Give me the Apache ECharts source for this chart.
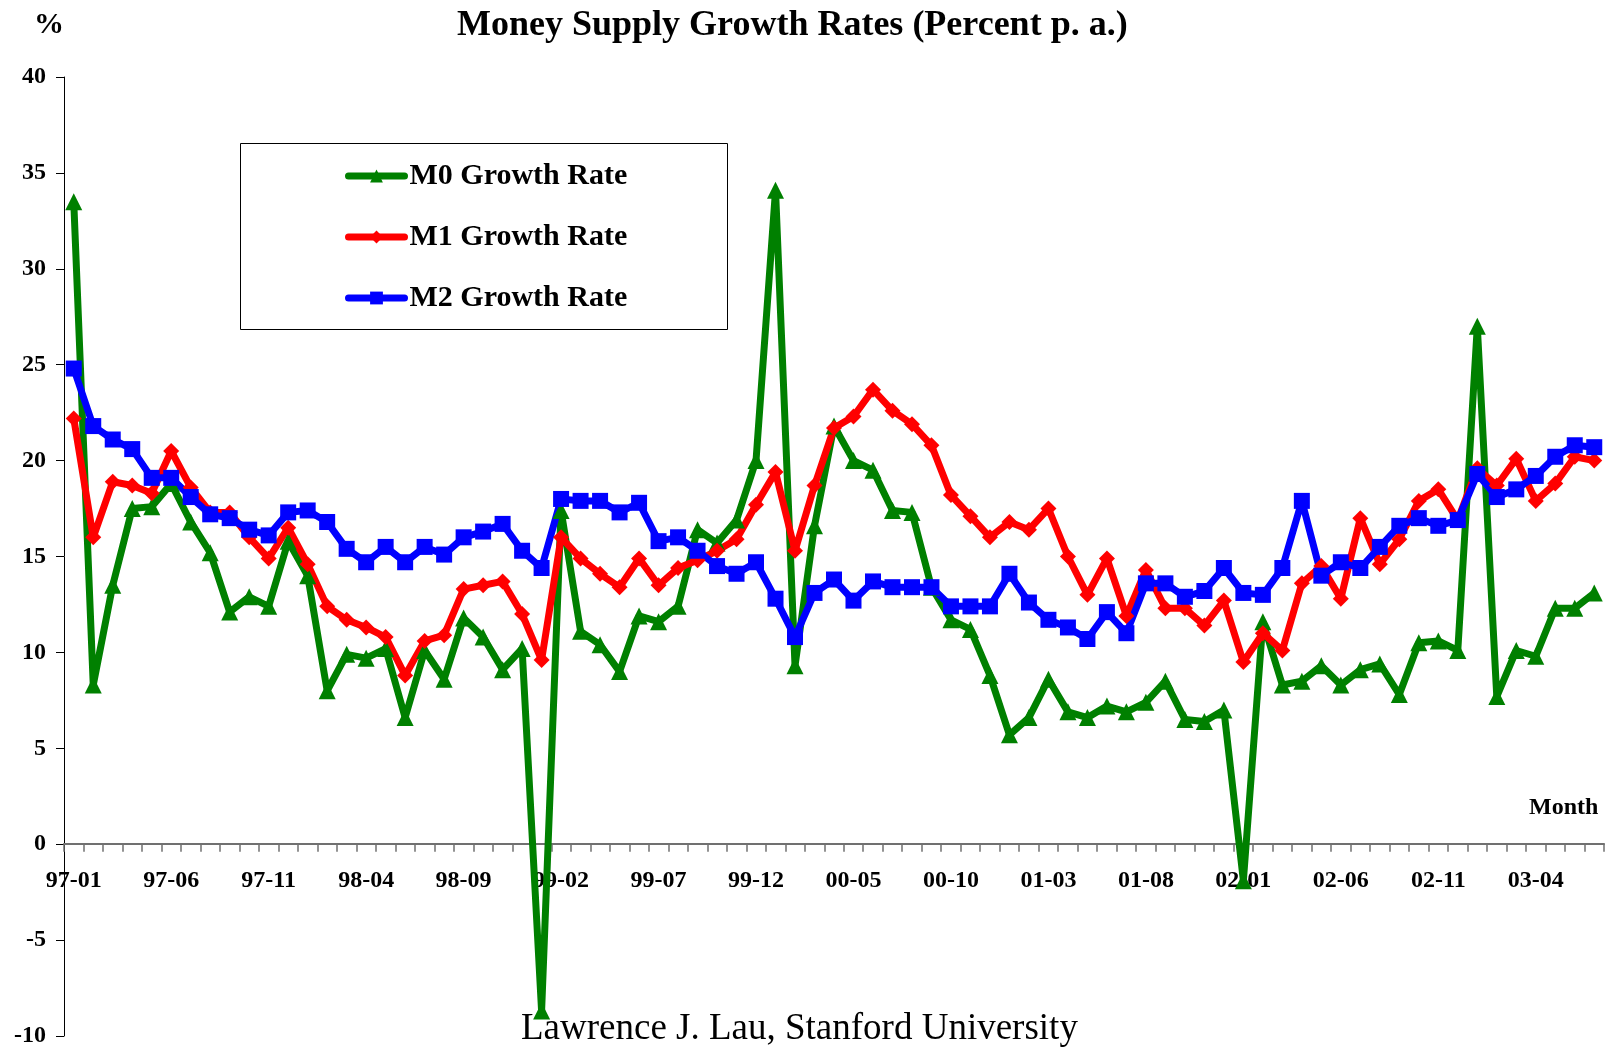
<!DOCTYPE html>
<html>
<head>
<meta charset="utf-8">
<title>Money Supply Growth Rates</title>
<script src="https://cdn.jsdelivr.net/npm/echarts@6/dist/echarts.min.js"></script>
<style>
  html, body { margin: 0; padding: 0; background: #fff; }
  #chart { width: 1614px; height: 1048px; }
</style>
</head>
<body>
<div id="chart"></div>
<script>
// months, 97-01 .. 03-07
const months = [
  '97-01', '97-02', '97-03', '97-04', '97-05', '97-06', '97-07', '97-08', '97-09', '97-10', '97-11', '97-12',
  '98-01', '98-02', '98-03', '98-04', '98-05', '98-06', '98-07', '98-08', '98-09', '98-10', '98-11', '98-12',
  '99-01', '99-02', '99-03', '99-04', '99-05', '99-06', '99-07', '99-08', '99-09', '99-10', '99-11', '99-12',
  '00-01', '00-02', '00-03', '00-04', '00-05', '00-06', '00-07', '00-08', '00-09', '00-10', '00-11', '00-12',
  '01-01', '01-02', '01-03', '01-04', '01-05', '01-06', '01-07', '01-08', '01-09', '01-10', '01-11', '01-12',
  '02-01', '02-02', '02-03', '02-04', '02-05', '02-06', '02-07', '02-08', '02-09', '02-10', '02-11', '02-12',
  '03-01', '03-02', '03-03', '03-04', '03-05', '03-06', '03-07'
]

const m0Growth = [
  33.5, 8.3, 13.5, 17.5, 17.6, 18.8, 16.8, 15.2, 12.1, 12.9, 12.4, 15.8,
  14.0, 8.0, 9.9, 9.7, 10.2, 6.6, 10.1, 8.6, 11.8, 10.8, 9.1, 10.2,
  -8.7, 17.4, 11.1, 10.4, 9.0, 11.9, 11.6, 12.4, 16.4, 15.7, 16.9, 20.0,
  34.1, 9.3, 16.6, 21.8, 20.0, 19.5, 17.4, 17.3, 13.4, 11.7, 11.2, 8.8,
  5.7, 6.6, 8.6, 6.9, 6.6, 7.2, 6.9, 7.4, 8.5, 6.5, 6.4, 7.0,
  -1.9, 11.6, 8.3, 8.5, 9.3, 8.3, 9.1, 9.4, 7.8, 10.5, 10.6, 10.1,
  27.0, 7.7, 10.1, 9.8, 12.3, 12.3, 13.1
]

const m1Growth = [
  22.2, 16.0, 18.9, 18.7, 18.3, 20.5, 18.6, 17.3, 17.3, 16.0, 14.9, 16.5,
  14.6, 12.4, 11.7, 11.3, 10.8, 8.8, 10.6, 10.9, 13.3, 13.5, 13.7, 12.0,
  9.6, 16.0, 14.9, 14.1, 13.4, 14.9, 13.5, 14.4, 14.8, 15.3, 15.9, 17.7,
  19.4, 15.3, 18.7, 21.7, 22.3, 23.7, 22.6, 21.9, 20.8, 18.2, 17.1, 16.0,
  16.8, 16.4, 17.5, 15.0, 13.0, 14.9, 11.9, 14.3, 12.3, 12.3, 11.4, 12.7,
  9.5, 11.0, 10.1, 13.6, 14.5, 12.8, 17.0, 14.6, 15.9, 17.9, 18.5, 16.9,
  19.6, 18.7, 20.1, 17.9, 18.8, 20.2, 20.0
]

const m2Growth = [
  24.8, 21.8, 21.1, 20.6, 19.1, 19.1, 18.1, 17.2, 17.0, 16.4, 16.1, 17.3,
  17.4, 16.8, 15.4, 14.7, 15.5, 14.7, 15.5, 15.1, 16.0, 16.3, 16.7, 15.3,
  14.4, 18.0, 17.9, 17.9, 17.3, 17.8, 15.8, 16.0, 15.3, 14.5, 14.1, 14.7,
  12.8, 10.8, 13.1, 13.8, 12.7, 13.7, 13.4, 13.4, 13.4, 12.4, 12.4, 12.4,
  14.1, 12.6, 11.7, 11.3, 10.7, 12.1, 11.0, 13.6, 13.6, 12.9, 13.2, 14.4,
  13.1, 13.0, 14.4, 17.9, 14.0, 14.7, 14.4, 15.5, 16.6, 17.0, 16.6, 16.9,
  19.3, 18.1, 18.5, 19.2, 20.2, 20.8, 20.7
]

const yTicks = { min: -10, max: 40, step: 5 }

const serifFont = '"Liberation Serif", "Times New Roman", serif'

const chart = echarts.init(document.getElementById('chart'))

// 每条线的公共样式
function makeLine (name, data, color, symbol, size) {
  return {
    name: name,
    type: 'line',
    data: data,
    symbol: symbol,
    symbolSize: size,
    showSymbol: true,
    showAllSymbol: true,
    lineStyle: { color: color, width: 7 },
    itemStyle: { color: color },
    emphasis: { disabled: true }
  }
}

// grid 高度 961，零线在 40/50 处，x 轴要往上挪到零线位置
const gridTop = 77
const gridBottom = 10
const plotHeight = 1048 - gridTop - gridBottom
const zeroOffset = -plotHeight * (0 - yTicks.min) / (yTicks.max - yTicks.min)

const option = {
  animation: false,
  backgroundColor: '#fff',
  textStyle: { fontFamily: serifFont },
  title: [
    {
      text: 'Money Supply Growth Rates (Percent p. a.)',
      left: 452,
      top: 3,
      textStyle: { fontFamily: serifFont, fontWeight: 'bold', fontSize: 36, color: '#000' }
    },
    {
      text: '%',
      left: 29,
      top: 5,
      textStyle: { fontFamily: serifFont, fontWeight: 'bold', fontSize: 30, color: '#000' }
    },
    {
      text: 'Month',
      left: 1524,
      top: 791,
      textStyle: { fontFamily: serifFont, fontWeight: 'bold', fontSize: 24, color: '#000' }
    },
    {
      text: 'Lawrence J. Lau, Stanford University',
      left: 516,
      top: 1006,
      textStyle: { fontFamily: serifFont, fontWeight: 'normal', fontSize: 37, color: '#000' }
    }
  ],
  // 图例外框
  graphic: [
    {
      type: 'rect',
      left: 240,
      top: 143,
      shape: { width: 487, height: 186 },
      style: { fill: '#fff', stroke: '#000', lineWidth: 1 },
      z: 0
    }
  ],
  legend: {
    orient: 'vertical',
    left: 345,
    top: 161,
    itemGap: 31,
    itemWidth: 56,
    itemHeight: 16,
    padding: 0,
    z: 10,
    lineStyle: { width: 7, cap: 'round' },
    textStyle: { fontFamily: serifFont, fontWeight: 'bold', fontSize: 30, color: '#000' },
    data: ['M0 Growth Rate', 'M1 Growth Rate', 'M2 Growth Rate']
  },
  grid: {
    left: 64,
    right: 10,
    top: gridTop,
    bottom: gridBottom,
    containLabel: false
  },
  xAxis: {
    type: 'category',
    data: months,
    boundaryGap: true,
    position: 'bottom',
    offset: zeroOffset,
    axisLine: { onZero: false, lineStyle: { color: '#707070', width: 2 } },
    axisTick: { show: true, interval: 0, length: 8, lineStyle: { color: '#707070', width: 1.5 } },
    axisLabel: {
      interval: 4,
      margin: 25,
      fontFamily: serifFont,
      fontWeight: 'bold',
      fontSize: 24,
      color: '#000'
    },
    splitLine: { show: false }
  },
  yAxis: {
    type: 'value',
    min: yTicks.min,
    max: yTicks.max,
    interval: yTicks.step,
    axisLine: { show: true, lineStyle: { color: '#000', width: 1 } },
    axisTick: { show: true, length: 8, lineStyle: { color: '#000' } },
    axisLabel: {
      margin: 18,
      fontFamily: serifFont,
      fontWeight: 'bold',
      fontSize: 24,
      color: '#000'
    },
    splitLine: { show: false }
  },
  series: [
    makeLine('M0 Growth Rate', m0Growth, '#008000', 'triangle', 17),
    makeLine('M1 Growth Rate', m1Growth, '#ff0000', 'diamond', 16),
    makeLine('M2 Growth Rate', m2Growth, '#0000ff', 'rect', 16)
  ]
}

chart.setOption(option)
</script>
</body>
</html>
